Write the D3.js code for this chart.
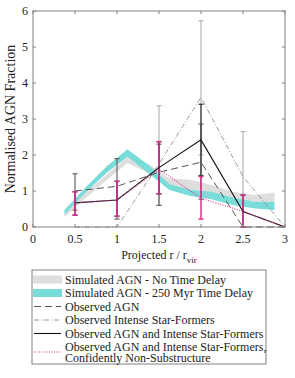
<!DOCTYPE html>
<html><head><meta charset="utf-8">
<script src="https://cdn.jsdelivr.net/npm/d3@7"></script>
<style>body{margin:0;background:#fff}svg{display:block}</style>
</head><body>
<script>
// Simulated bands
const xSim = [0.375,0.625,0.875,1.125,1.375,1.625,1.875,2.125,2.375,2.625,2.875];
const noDelayLo = [0.28,0.8,1.3,1.78,1.5,1.12,1.0,0.95,0.8,0.7,0.7];
const noDelayHi = [0.38,0.95,1.45,1.95,1.75,1.35,1.31,1.17,0.98,0.89,0.96];
const delayLo = [0.35,0.95,1.5,1.95,1.49,1.03,0.86,0.77,0.61,0.52,0.47];
const delayHi = [0.47,1.1,1.68,2.16,1.72,1.19,1.03,0.98,0.82,0.7,0.7];
// Observed
const xObs = [0.5,1,1.5,2,2.5,3];
const agn = [1.0,1.13,1.52,1.8,0,0];
const agnLo = [0.47,0.22,0.6,0.77,0,0];
const agnHi = [1.48,1.9,2.3,2.86,0,0];
const sf = [0,0,1.75,3.6,1.4,0];
const sfLo = [0,0,0.6,2.0,0,0];
const sfHi = [0,0,3.37,5.73,2.65,0];
const both = [0.67,0.75,1.65,2.42,0.43,0];
const bothLo = [0.33,0.3,0.92,1.43,0,0];
const bothHi = [0.98,1.27,2.37,3.41,0.89,0];
const nonSub = [0.67,0.75,1.6,0.8,0.43,0];
const nonSubLo = [0.33,0.3,0.92,0.22,0,0];
const nonSubHi = [0.98,1.27,2.37,1.4,0.89,0];
const xTicks = [0,0.5,1,1.5,2,2.5,3];
const xTickLabels = ["0","0.5","1","1.5","2","2.5","3"];
const yTicks = [0,1,2,3,4,5,6];
const legendLabels = ["Simulated AGN - No Time Delay","Simulated AGN - 250 Myr Time Delay","Observed AGN","Observed Intense Star-Formers","Observed AGN and Intense Star-Formers","Observed AGN and Intense Star-Formers,","Confidently Non-Substructure"];

const W=295,H=378, L=33,R=285,T=11,B=227;
const FONT="'Liberation Serif', 'Times New Roman', 'DejaVu Serif', serif";
const svg=d3.select("body").append("svg").attr("width",W).attr("height",H)
  .attr("font-family",FONT);
const x=d3.scaleLinear().domain([0,3]).range([L,R]);
const y=d3.scaleLinear().domain([0,6]).range([B,T]);
const axisCol="#808080", txtCol="#222";
const cGray="#dedede", cCyan="#78dcd8", cMag="#d8318f";

const area=(lo,hi)=>d3.area().x((d,i)=>x(xSim[i])).y0((d,i)=>y(lo[i])).y1((d,i)=>y(hi[i]));
svg.append("path").attr("d",area(noDelayLo,noDelayHi)(xSim)).attr("fill",cGray);
svg.append("path").attr("d",area(delayLo,delayHi)(xSim)).attr("fill",cCyan);

function errBars(lo,hi,col,w){
  xObs.forEach((xv,i)=>{
    if(hi[i]-lo[i]<=0) return;
    const g=svg.append("g").attr("stroke",col).attr("stroke-width",w);
    g.append("line").attr("x1",x(xv)).attr("x2",x(xv)).attr("y1",y(lo[i])).attr("y2",y(hi[i]));
    [lo[i],hi[i]].forEach(v=>g.append("line").attr("x1",x(xv)-2.5).attr("x2",x(xv)+2.5).attr("y1",y(v)).attr("y2",y(v)));
  });
}
errBars(sfLo,sfHi,"#b4b4b4",1.2);
errBars(agnLo,agnHi,"#666",1.2);
errBars(bothLo,bothHi,"#333",1.2);
errBars(nonSubLo,nonSubHi,cMag,1.5);

const line=d3.line().x((d,i)=>x(xObs[i])).y(d=>y(d));
svg.append("path").attr("d",line(sf)).attr("fill","none").attr("stroke","#8c8c8c").attr("stroke-width",0.9).attr("stroke-dasharray","5,2,1,2");
svg.append("path").attr("d",line(agn)).attr("fill","none").attr("stroke","#555").attr("stroke-width",1).attr("stroke-dasharray","7,4");
svg.append("path").attr("d",line(both)).attr("fill","none").attr("stroke","#111").attr("stroke-width",1.1);
svg.append("path").attr("d",line(nonSub)).attr("fill","none").attr("stroke",cMag).attr("stroke-width",1.1).attr("stroke-dasharray","1,1.5");

// frame
svg.append("rect").attr("x",L).attr("y",T).attr("width",R-L).attr("height",B-T).attr("fill","none").attr("stroke",axisCol).attr("stroke-width",1);
const tk=3;
xTicks.forEach(v=>{
  svg.append("line").attr("x1",x(v)).attr("x2",x(v)).attr("y1",B).attr("y2",B-tk).attr("stroke",axisCol);
  svg.append("line").attr("x1",x(v)).attr("x2",x(v)).attr("y1",T).attr("y2",T+tk).attr("stroke",axisCol);
});
yTicks.forEach(v=>{
  svg.append("line").attr("x1",L).attr("x2",L+tk).attr("y1",y(v)).attr("y2",y(v)).attr("stroke",axisCol);
  svg.append("line").attr("x1",R).attr("x2",R-tk).attr("y1",y(v)).attr("y2",y(v)).attr("stroke",axisCol);
});
xTicks.forEach((v,i)=>svg.append("text").attr("x",x(v)).attr("y",B+16).attr("text-anchor","middle").attr("font-size",12).attr("fill",txtCol).text(xTickLabels[i]));
yTicks.forEach(v=>svg.append("text").attr("x",L-5).attr("y",y(v)+4).attr("text-anchor","end").attr("font-size",12).attr("fill",txtCol).text(v));

const xl=svg.append("text").attr("x",(L+R)/2).attr("y",B+32).attr("text-anchor","middle").attr("font-size",12).attr("fill",txtCol);
xl.append("tspan").text("Projected r / r");
xl.append("tspan").attr("font-size",9).attr("dy",4).text("vir");
svg.append("text").attr("transform",`translate(15,${(T+B)/2}) rotate(-90)`).attr("text-anchor","middle").attr("font-size",14).attr("fill",txtCol).text("Normalised AGN Fraction");

// legend
const lx=32, ly=270;
svg.append("rect").attr("x",lx).attr("y",ly).attr("width",234).attr("height",94).attr("fill","#fff").attr("stroke",axisCol);
const rowY=[279.5,293,306.5,320,333.5,346.5,357.5];
const tx=65;
legendLabels.forEach((t,i)=>svg.append("text").attr("x",tx).attr("y",rowY[i]+4).attr("font-size",12).attr("fill",txtCol).text(t));
svg.append("rect").attr("x",33).attr("y",rowY[0]-4).attr("width",29).attr("height",8).attr("fill",cGray);
svg.append("rect").attr("x",33).attr("y",rowY[1]-4).attr("width",29).attr("height",8).attr("fill",cCyan);
svg.append("line").attr("x1",34).attr("x2",61).attr("y1",rowY[2]).attr("y2",rowY[2]).attr("stroke","#555").attr("stroke-dasharray","7,4");
svg.append("line").attr("x1",34).attr("x2",61).attr("y1",rowY[3]).attr("y2",rowY[3]).attr("stroke","#8c8c8c").attr("stroke-width",0.9).attr("stroke-dasharray","5,2,1,2");
svg.append("line").attr("x1",34).attr("x2",61).attr("y1",rowY[4]).attr("y2",rowY[4]).attr("stroke","#111").attr("stroke-width",1.1);
svg.append("line").attr("x1",34).attr("x2",61).attr("y1",(rowY[5]+rowY[6])/2).attr("y2",(rowY[5]+rowY[6])/2).attr("stroke",cMag).attr("stroke-width",1.1).attr("stroke-dasharray","1,1.5");
</script>
</body></html>
